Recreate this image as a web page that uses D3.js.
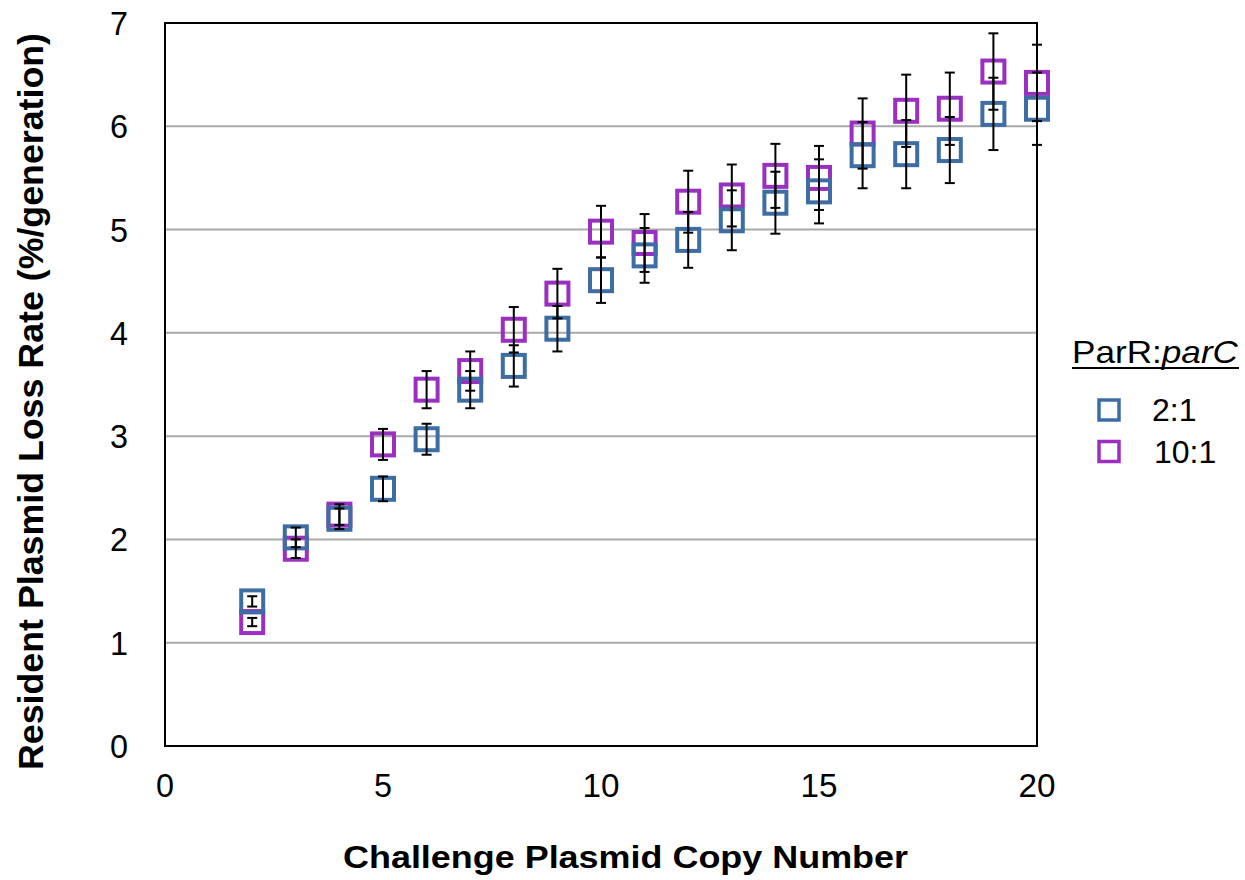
<!DOCTYPE html>
<html>
<head>
<meta charset="utf-8">
<script src="https://cdn.jsdelivr.net/npm/d3@7"></script>
<style>
  body { margin: 0; background: #fff; }
  svg text { font-family: "Liberation Sans", Arial, sans-serif; fill: #000; }
</style>
</head>
<body>
<div id="graphicContainer"></div>
<script>
// challenge plasmid copy number
var copyNumber = [2,3,4,5,6,7,8,9,10,11,12,13,14,15,16,17,18,19,20];

// ParR:parC 2:1
var ratio2 = [1.40,2.02,2.20,2.49,2.97,3.45,3.68,4.04,4.51,4.75,4.90,5.09,5.26,5.37,5.72,5.73,5.77,6.12,6.17];
var ratio2Err = [0.05,0.095,0.10,0.12,0.15,0.18,0.20,0.22,0.22,0.265,0.27,0.29,0.30,0.31,0.32,0.33,0.32,0.35,0.35];

// ParR:parC 10:1
var ratio10 = [1.20,1.91,2.24,2.92,3.45,3.63,4.03,4.38,4.98,4.87,5.27,5.33,5.52,5.50,5.93,6.15,6.17,6.53,6.42];
var ratio10Err = [0.04,0.09,0.10,0.15,0.18,0.19,0.22,0.24,0.25,0.28,0.30,0.30,0.31,0.31,0.34,0.35,0.35,0.37,0.37];

var xTicks = [0,5,10,15,20];
var yTicks = [0,1,2,3,4,5,6,7];

var seriesNames = ["2:1","10:1"];
var seriesColors = ["#3c6da3","#9b2fc2"];

var width = 1245, height = 880;
var margin = {top: 23, right: 208, bottom: 134, left: 165};
var plotW = width - margin.left - margin.right;
var plotH = height - margin.top - margin.bottom;

var svg = d3.select("#graphicContainer").append("svg")
  .attr("width", width)
  .attr("height", height);

var x = d3.scaleLinear().domain([0,20]).range([0, plotW]);
var y = d3.scaleLinear().domain([0,7]).range([plotH, 0]);

var g = svg.append("g").attr("transform", "translate(" + margin.left + "," + margin.top + ")");

// gridlines
g.append("g")
  .selectAll("line")
  .data(yTicks.filter(d => d > 0 && d < 7))
  .enter().append("line")
  .attr("x1", 0).attr("x2", plotW)
  .attr("y1", d => y(d)).attr("y2", d => y(d))
  .attr("stroke", "#a9a9a9")
  .attr("stroke-width", 2);

// frame
g.append("rect")
  .attr("x", 0).attr("y", 0)
  .attr("width", plotW).attr("height", plotH)
  .attr("fill", "none")
  .attr("stroke", "#000")
  .attr("stroke-width", 2);

// tick labels
g.append("g")
  .selectAll("text")
  .data(xTicks)
  .enter().append("text")
  .attr("x", d => x(d))
  .attr("y", plotH + 51)
  .attr("text-anchor", "middle")
  .style("font-size", "33px")
  .attr("textLength", d => d >= 10 ? 37 : 18)
  .attr("lengthAdjust", "spacingAndGlyphs")
  .text(d => d);

g.append("g")
  .selectAll("text")
  .data(yTicks)
  .enter().append("text")
  .attr("x", -37)
  .attr("y", d => y(d) + 12)
  .attr("text-anchor", "end")
  .style("font-size", "33px")
  .attr("textLength", 18)
  .attr("lengthAdjust", "spacingAndGlyphs")
  .text(d => d);

// axis titles
svg.append("text")
  .attr("x", 625.5)
  .attr("y", 868)
  .attr("text-anchor", "middle")
  .style("font-size", "32px")
  .style("font-weight", "bold")
  .attr("textLength", 565)
  .attr("lengthAdjust", "spacingAndGlyphs")
  .text("Challenge Plasmid Copy Number");

svg.append("text")
  .attr("transform", "translate(43,401.5) rotate(-90)")
  .attr("text-anchor", "middle")
  .style("font-size", "35px")
  .style("font-weight", "bold")
  .attr("textLength", 737)
  .attr("lengthAdjust", "spacingAndGlyphs")
  .text("Resident Plasmid Loss Rate (%/generation)");

// series, 10:1 first so 2:1 sits on top
var series = [
  {name: seriesNames[1], color: seriesColors[1], values: ratio10, err: ratio10Err},
  {name: seriesNames[0], color: seriesColors[0], values: ratio2, err: ratio2Err}
];

var sq = 22;
series.forEach(s => {
  g.append("g")
    .selectAll("rect")
    .data(copyNumber.map((n, i) => ({n: n, v: s.values[i]})))
    .enter().append("rect")
    .attr("x", d => x(d.n) - sq / 2)
    .attr("y", d => y(d.v) - sq / 2)
    .attr("width", sq).attr("height", sq)
    .attr("fill", "none")
    .attr("stroke", s.color)
    .attr("stroke-width", 4);
});

// error bars on top
var cap = 5;
series.forEach(s => {
  var bars = g.append("g")
    .selectAll("g")
    .data(copyNumber.map((n, i) => ({n: n, v: s.values[i], e: s.err[i]})))
    .enter().append("g")
    .attr("stroke", "#000")
    .attr("stroke-width", 2);
  bars.append("line")
    .attr("x1", d => x(d.n)).attr("x2", d => x(d.n))
    .attr("y1", d => y(d.v + d.e)).attr("y2", d => y(d.v - d.e));
  bars.append("line")
    .attr("x1", d => x(d.n) - cap).attr("x2", d => x(d.n) + cap)
    .attr("y1", d => y(d.v + d.e)).attr("y2", d => y(d.v + d.e));
  bars.append("line")
    .attr("x1", d => x(d.n) - cap).attr("x2", d => x(d.n) + cap)
    .attr("y1", d => y(d.v - d.e)).attr("y2", d => y(d.v - d.e));
});

// legend
var legend = svg.append("g").attr("transform", "translate(1072,0)");
var title = legend.append("text")
  .attr("x", 0).attr("y", 363)
  .style("font-size", "32px")
  .attr("textLength", 166)
  .attr("lengthAdjust", "spacingAndGlyphs");
title.append("tspan").text("ParR:");
title.append("tspan").style("font-style", "italic").text("parC");
legend.append("line")
  .attr("x1", 0).attr("x2", 167)
  .attr("y1", 368).attr("y2", 368)
  .attr("stroke", "#000").attr("stroke-width", 2);

var legendItems = [
  {name: seriesNames[0], color: seriesColors[0]},
  {name: seriesNames[1], color: seriesColors[1]}
];
var items = legend.selectAll(".item")
  .data(legendItems)
  .enter().append("g")
  .attr("class", "item")
  .attr("transform", (d, i) => "translate(0," + (410 + i * 41.5) + ")");
items.append("rect")
  .attr("x", 27).attr("y", -10)
  .attr("width", 20).attr("height", 20)
  .attr("fill", "none")
  .attr("stroke", d => d.color)
  .attr("stroke-width", 3.5);
items.append("text")
  .attr("x", (d, i) => i === 0 ? 80 : 82)
  .attr("y", 11)
  .style("font-size", "32px")
  .text(d => d.name);
</script>
</body>
</html>
